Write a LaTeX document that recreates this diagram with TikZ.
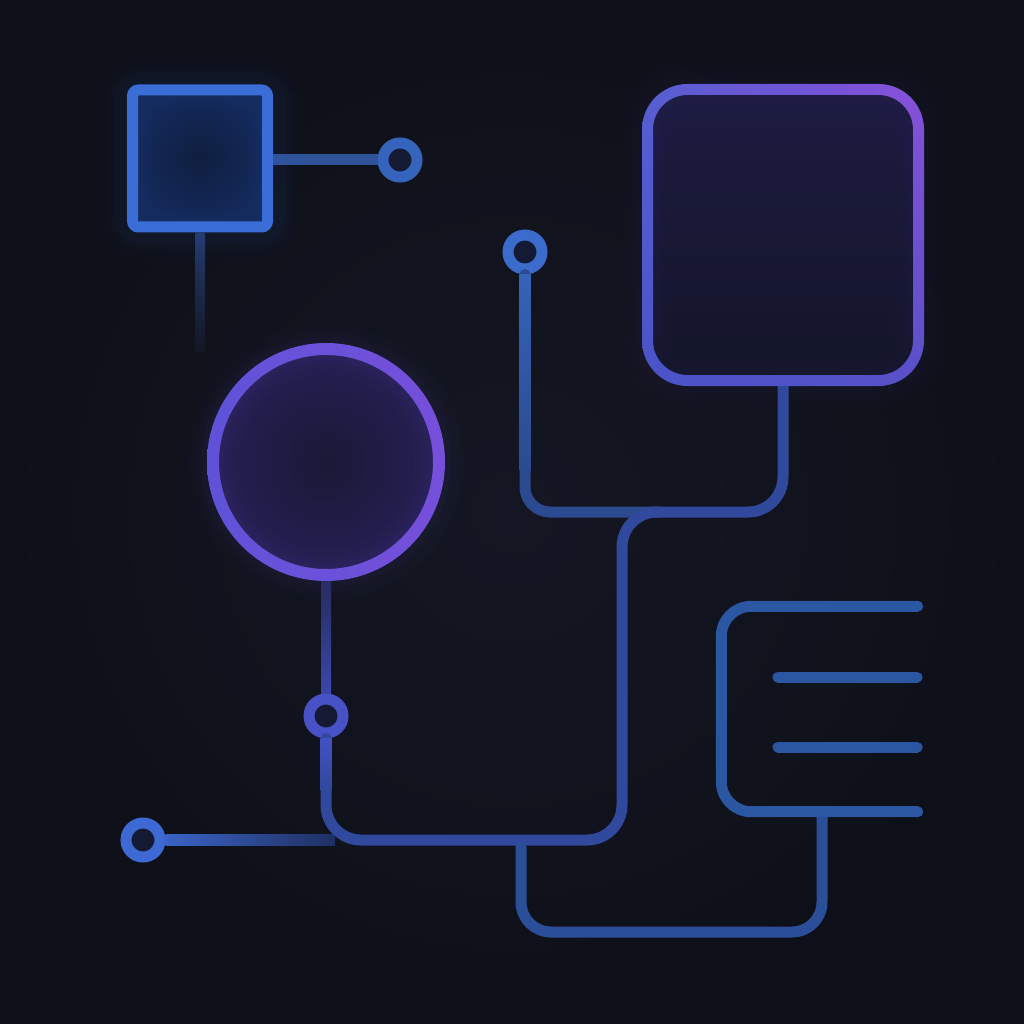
\documentclass[tikz,border=0pt]{standalone}
\usetikzlibrary{shadings}
\definecolor{bgA}{HTML}{141723}
\definecolor{bgB}{HTML}{0E1019}
\definecolor{sqblue}{HTML}{3A6DD6}
\definecolor{hubpurple}{HTML}{6A52DA}
\definecolor{portfill}{HTML}{141A33}
\definecolor{routecol}{HTML}{30499C}
\definecolor{rtwocol}{HTML}{2C4A90}
\definecolor{doccol}{HTML}{2B56A2}
\definecolor{dcol}{HTML}{2A4E98}
\definecolor{linkcol}{HTML}{2F5398}
\begin{document}
\begin{tikzpicture}[x=0.1mm,y=-0.1mm,
  wire/.style={line width=1.1mm, line cap=round, line join=round},
  port/.style={circle, draw, line width=1.1mm, minimum size=3.4mm, inner sep=0pt, fill=portfill}]
\useasboundingbox (0,0) rectangle (1024,1024);
\shade[inner color=bgA, outer color=bgB] (0,0) rectangle (1024,1024);

% ---- nodes
\node[rectangle, draw=sqblue, line width=1.1mm, rounded corners=0.6mm,
      minimum width=13.5mm, minimum height=13.7mm, inner sep=0pt,
      inner color={rgb,255:red,16;green,31;blue,64}, outer color={rgb,255:red,20;green,42;blue,92}] (sq) at (200,158.5) {};
\node[circle, minimum size=22.6mm, inner sep=0pt,
      inner color={rgb,255:red,27;green,24;blue,54}, outer color={rgb,255:red,38;green,31;blue,84}] (hub) at (326,462) {};
\node[rectangle, rounded corners=4mm, minimum width=27.1mm, minimum height=29.1mm, inner sep=0pt,
      top color={rgb,255:red,29;green,27;blue,66}, bottom color={rgb,255:red,19;green,21;blue,40}] (big) at (783,235) {};
\node[rectangle, minimum width=19.5mm, minimum height=20.4mm, inner sep=0pt] (doc) at (819.5,709) {};
\node[port, draw={rgb,255:red,53;green,100;blue,189}] (n1) at (400,160) {};
\node[port, draw={rgb,255:red,59;green,107;blue,203}] (n3) at (525,252) {};
\node[port, draw={rgb,255:red,71;green,82;blue,198}] (n2) at (326,716) {};
\node[port, draw={rgb,255:red,61;green,106;blue,210}] (n4) at (143,840) {};

\coordinate (e1) at (200,352);
\coordinate (c1) at (335,840);
\coordinate (k2) at (326,790);
\coordinate (b1) at (660,512);
\coordinate (k3) at (525,470);
\coordinate (dx) at (822,0);
\coordinate (d2) at (521,847);

% ---- connectors
\draw[wire, line cap=butt, linkcol] (sq.east |- n1) -- (n1.west);
\shade[top color={rgb,255:red,36;green,58;blue,110}, bottom color=bgA]
  ([xshift=-0.5mm]sq.south) rectangle ([xshift=0.5mm]e1);
\shade[top color={rgb,255:red,37;green,42;blue,90}, bottom color={rgb,255:red,60;green,71;blue,172}]
  ([xshift=-0.5mm]hub.south) rectangle ([xshift=0.5mm]n2.north);
\shade[left color={rgb,255:red,58;green,99;blue,196}, right color={rgb,255:red,31;green,47;blue,98}]
  ([yshift=0.55mm]n4.east) rectangle ([yshift=-0.55mm]c1);
\draw[wire, rtwocol, rounded corners=2.5mm] (n3.south) -- (525,512) -- (b1);
\shade[top color={rgb,255:red,53;green,99;blue,184}, bottom color=rtwocol]
  ([xshift=-0.55mm]n3.south) rectangle ([xshift=0.55mm]k3);
\draw[wire, routecol, rounded corners=3.5mm] (n2.south) -- (326,840) -- (622,840) -- (622,512) -- (783,512) -- (big.south);
\shade[top color={rgb,255:red,67;green,81;blue,196}, bottom color=routecol]
  ([xshift=-0.55mm]n2.south) rectangle ([xshift=0.55mm]k2);
\draw[wire, dcol, rounded corners=3mm] (doc.south -| dx) -- (822,932) -- (521,932) -- (d2);

% ---- document glyph
\draw[wire, doccol, rounded corners=3mm] (doc.north east) -- (doc.north west) -- (doc.south west) -- (doc.south east);
\draw[wire, doccol] (778,677) -- (917,677);
\draw[wire, doccol] (778,747) -- (917,747);

% ---- gradient rings
\shade[even odd rule, upper left={rgb,255:red,86;green,98;blue,210}, upper right={rgb,255:red,140;green,80;blue,218},
       lower left={rgb,255:red,74;green,86;blue,200}, lower right={rgb,255:red,88;green,80;blue,200}]
  [rounded corners=4.55mm] (642,84) rectangle (924,386)
  [rounded corners=3.45mm] (653,95) rectangle (913,375);
\shade[even odd rule, left color={rgb,255:red,94;green,83;blue,216}, right color={rgb,255:red,122;green,79;blue,218}]
  (hub.center) circle (11.9mm) (hub.center) circle (10.7mm);

% ---- glows
\foreach \w/\o in {5mm/0.018, 3.6mm/0.025, 2.4mm/0.035}{
  \draw[sqblue, line width=\w, opacity=\o, rounded corners=1.5mm] (sq.south west) rectangle (sq.north east);
  \draw[hubpurple, line width=\w, opacity=\o] (hub.center) circle (11.3mm);
  \draw[hubpurple, line width=\w, opacity=0.6*\o, rounded corners=4mm] (big.south west) rectangle (big.north east);
}
\end{tikzpicture}
\end{document}
